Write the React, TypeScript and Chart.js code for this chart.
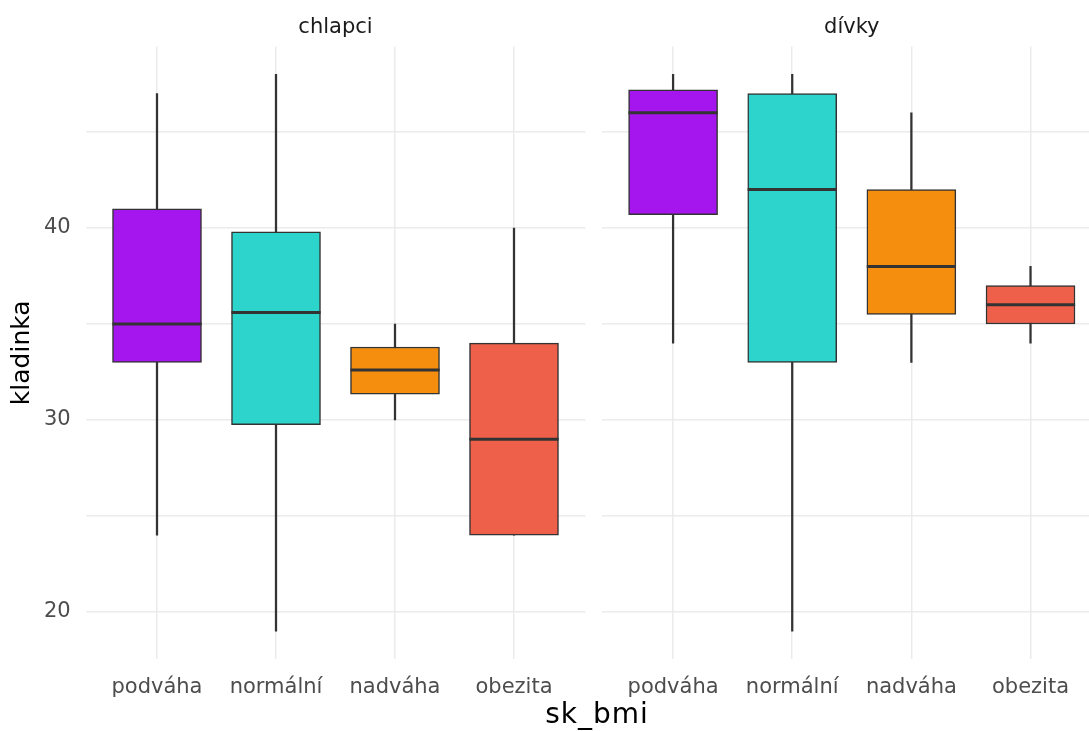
import React, { useEffect, useRef } from "react";
import { Chart, registerables } from "chart.js";

Chart.register(...registerables);

const FONT = "'DejaVu Sans', sans-serif";

const CATEGORIES = ["podváha", "normální", "nadváha", "obezita"];
const COLORS = ["#A516EF", "#2DD4CB", "#F58E0F", "#EF604A"];
const Y_TICKS = [20, 25, 30, 35, 40, 45];
const Y_MIN = 17.55;
const Y_MAX = 49.45;

// chlapci
const BOYS_MIN = [24, 19, 30, 24];
const BOYS_Q1 = [33, 29.75, 31.35, 24];
const BOYS_MED = [35, 35.6, 32.6, 29];
const BOYS_Q3 = [41, 39.8, 33.8, 34];
const BOYS_MAX = [47, 48, 35, 40];

// dívky
const GIRLS_MIN = [34, 19, 33, 34];
const GIRLS_Q1 = [40.7, 33, 35.5, 35];
const GIRLS_MED = [46, 42, 38, 36];
const GIRLS_Q3 = [47.2, 47, 42, 37];
const GIRLS_MAX = [48, 48, 46, 38];

function makeConfig(
  title: string,
  mins: number[],
  q1s: number[],
  meds: number[],
  q3s: number[],
  maxs: number[],
  showY: boolean
): any {
  const xs = CATEGORIES.map((_, i) => i + 1);
  const gridOpts = { color: "#EBEBEB", lineWidth: 1.5, drawTicks: false, offset: false };
  return {
    type: "bar",
    data: {
      datasets: [
        {
          type: "scatter",
          label: "median",
          data: xs.map((x, i) => ({ x, y: meds[i] })),
          pointStyle: "line",
          pointRadius: 44.6,
          pointHoverRadius: 44.6,
          pointBorderColor: "#333333",
          pointBorderWidth: 3,
          borderColor: "#333333",
          order: 1,
        },
        {
          type: "bar",
          label: "box",
          data: xs.map((x, i) => ({ x, y: [q1s[i], q3s[i]] })),
          backgroundColor: COLORS,
          borderColor: "#333333",
          borderWidth: 1.5,
          borderSkipped: false,
          barThickness: 89,
          grouped: false,
          order: 2,
        },
        {
          type: "bar",
          label: "whisker",
          data: xs.map((x, i) => ({ x, y: [mins[i], maxs[i]] })),
          backgroundColor: "#333333",
          borderWidth: 0,
          barThickness: 1.6,
          grouped: false,
          order: 3,
        },
      ],
    },
    options: {
      animation: false,
      responsive: false,
      events: [],
      layout: {
        autoPadding: false,
        padding: { left: showY ? 0 : 8.6, right: showY ? 7.6 : 0, top: 0, bottom: 0 },
      },
      plugins: {
        legend: { display: false },
        tooltip: { enabled: false },
        title: {
          display: true,
          text: title,
          fullSize: false,
          color: "#1A1A1A",
          font: { family: FONT, size: 21, weight: "normal" },
          padding: { top: 15.4, bottom: 6 },
        },
      },
      scales: {
        x: {
          type: "linear",
          min: 0.4,
          max: 4.6,
          offset: false,
          afterBuildTicks: (s: any) => {
            s.ticks = xs.map((v) => ({ value: v }));
          },
          afterFit: (s: any) => {
            s.height = 72;
            s.paddingLeft = 0;
            s.paddingRight = 0;
          },
          grid: gridOpts,
          border: { display: false },
          ticks: {
            callback: (v: any) => CATEGORIES[Math.round(v) - 1] ?? "",
            color: "#4D4D4D",
            font: { family: FONT, size: 21 },
            padding: 16,
            maxRotation: 0,
            autoSkip: false,
          },
        },
        y: {
          type: "linear",
          min: Y_MIN,
          max: Y_MAX,
          afterBuildTicks: (s: any) => {
            s.ticks = Y_TICKS.map((v) => ({ value: v }));
          },
          afterFit: (s: any) => {
            s.width = showY ? 85.6 : 0;
            s.paddingTop = 0;
            s.paddingBottom = 0;
          },
          grid: gridOpts,
          border: { display: false },
          ticks: {
            display: showY,
            callback: (v: any) => (v % 10 === 0 ? String(v) : ""),
            padding: 15,
            color: "#4D4D4D",
            font: { family: FONT, size: 21 },
          },
          title: {
            display: showY,
            text: "kladinka",
            color: "#000000",
            font: { family: FONT, size: 25 },
            padding: { top: 7, bottom: 0 },
          },
        },
      },
    },
  };
}

function Panel(props: { make: () => any; left: number; width: number; height: number }) {
  const ref = useRef<HTMLCanvasElement>(null);
  useEffect(() => {
    const chart = new Chart(ref.current as HTMLCanvasElement, props.make());
    return () => chart.destroy();
  }, []);
  return (
    <canvas
      ref={ref}
      width={props.width}
      height={props.height}
      style={{
        position: "absolute",
        left: props.left,
        top: 0,
        width: props.width,
        height: props.height,
      }}
    />
  );
}

export default function App() {
  return (
    <div
      style={{
        position: "fixed",
        left: 0,
        top: 0,
        width: 1089,
        height: 731,
        overflow: "hidden",
        background: "#FFFFFF",
      }}
    >
      <Panel
        make={() => makeConfig("chlapci", BOYS_MIN, BOYS_Q1, BOYS_MED, BOYS_Q3, BOYS_MAX, true)}
        left={0}
        width={593}
        height={731}
      />
      <Panel
        make={() => makeConfig("dívky", GIRLS_MIN, GIRLS_Q1, GIRLS_MED, GIRLS_Q3, GIRLS_MAX, false)}
        left={593}
        width={509}
        height={731}
      />
      <div
        style={{
          position: "absolute",
          left: 447,
          width: 300,
          top: 700,
          textAlign: "center",
          fontFamily: FONT,
          fontSize: 28,
          lineHeight: "28px",
          color: "#000000",
          letterSpacing: 1,
        }}
      >
        sk_bmi
      </div>
    </div>
  );
}
